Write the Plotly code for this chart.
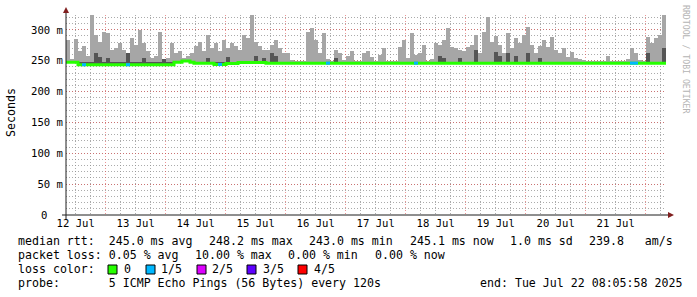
import plotly.graph_objects as go
import pandas as pd

# ---------------- data ----------------
START = pd.Timestamp("2025-07-12 08:05:58")
END = pd.Timestamp("2025-07-22 08:05:58")
BIN_MINUTES = 96  # 150 bins over 10 days

smoke_max = [
    284, 252, 285, 265, 273, 257, 324, 292, 281, 297, 295, 267, 271, 279, 267, 262, 287, 276, 300, 278,
    265, 254, 257, 297, 251, 254, 278, 262, 265, 254, 257, 262, 273, 281, 265, 292, 270, 278, 265, 284,
    270, 278, 273, 267, 292, 287, 324, 281, 273, 267,
    267, 276, 284, 270, 262, 262, 251, 249, 249, 250, 297, 303, 284, 262, 295, 252, 250, 267, 262, 251,
    258, 265, 250, 250, 262, 265, 256, 250, 260, 270, 250, 250, 250, 272, 284, 254, 295, 260, 262, 276,
    250, 252, 278, 275, 284, 303, 272, 270, 268, 265,
    272, 275, 292, 262, 297, 320, 280, 290, 276, 262, 295, 270, 286, 278, 292, 305, 276, 262, 273, 284,
    272, 288, 268, 262, 270, 256, 264, 255, 252, 251, 250, 250, 249, 250, 249, 258, 250, 249, 250, 250,
    252, 270, 262, 251, 250, 288, 278, 286, 292, 324,
]

smoke_inner = [
    248.5, 248.5, 248.5, 248.5, 248.5, 248.5, 248.5, 262, 256, 248.5, 255, 248.5, 248.5, 248.5, 248.5, 262, 248.5, 248.5, 248.5, 255,
    248.5, 248.5, 248.5, 248.5, 253, 248.5, 248.5, 250, 250, 251, 251, 250, 248.5, 248.5, 248.5, 254, 248.5, 248.5, 248.5, 248.5,
    256, 248.5, 248.5, 249, 249, 249, 249, 258, 249, 255,
    248.5, 262, 258, 248.5, 248.5, 248.5, 248.5, 248.5, 248.5, 248.5, 248.5, 248.5, 248.5, 248.5, 248.5, 248.5, 248.5, 254, 248.5, 248.5,
    248.5, 248.5, 248.5, 248.5, 248.5, 248.5, 248.5, 248.5, 248.5, 248.5, 248.5, 248.5, 248.5, 248.5, 248.5, 248.5, 248.5, 248.5, 248.5, 248.5,
    248.5, 248.5, 248.5, 257, 255, 248.5, 248.5, 248.5, 254, 248.5,
    248.5, 248.5, 268, 248.5, 248.5, 248.5, 248.5, 264, 258, 248.5, 262, 248.5, 258, 248.5, 248.5, 262, 248.5, 248.5, 255, 248.5,
    248.5, 248.5, 248.5, 248.5, 248.5, 248.5, 248.5, 248.5, 248.5, 248.5, 248.5, 248.5, 248.5, 248.5, 248.5, 248.5, 248.5, 248.5, 248.5, 248.5,
    248.5, 248.5, 248.5, 248.5, 248.5, 262, 248.5, 248.5, 248.5, 270,
]

median_rtt = [
    247.5, 247.5, 247.5, 243.5, 243.5, 243.5, 243.5, 243.5, 243.5, 243.5, 243.5, 243.5, 243.5, 243.5, 243.5, 243.5, 243.5, 243.5, 243.5, 243.5,
    243.5, 243.5, 243.5, 243.5, 243.5, 243.5, 243.5, 247.5, 247.5, 249.5, 249.5, 247.5, 246, 246, 246, 246, 246, 244, 244, 244,
    245.5, 245.5, 245.5, 247, 247, 247, 247, 247, 247, 247,
    246, 246, 246, 246, 246, 246, 246, 246, 246, 246, 246, 246, 246, 246, 246, 246, 246, 246, 246, 246,
    246, 246, 246, 246, 246, 246, 246, 246, 246, 246, 246, 246, 246, 246, 246, 246, 246, 246, 246, 246,
    246, 246, 246, 246, 246, 246, 246, 246, 246, 246,
    246, 246, 246, 246, 246, 246, 246, 246, 246, 246, 246, 246, 246, 246, 246, 246, 246, 246, 246, 246,
    246, 246, 246, 246, 246, 246, 246, 246, 246, 246, 246, 246, 246, 246, 246, 246, 246, 246, 246, 246,
    246, 246, 246, 246, 246, 246, 246, 246, 246, 246,
]

lost_pings = [0] * 150
for _i in (4, 15, 38, 65, 87, 141, 142):
    lost_pings[_i] = 1

loss_labels = ["0", "1/5", "2/5", "3/5", "4/5"]
loss_colors = ["#26ff00", "#00b8ff", "#dd00ff", "#5e00ff", "#ff0000"]

ytick_vals = [0, 50, 100, 150, 200, 250, 300]
ytick_text = ["0", "50 m", "100 m", "150 m", "200 m", "250 m", "300 m"]

legend_rows = [
    ["median rtt:  245.0 ms avg", "248.2 ms max", "243.0 ms min", "245.1 ms now", "1.0 ms sd", "239.8   am/s"],
    ["packet loss: 0.05 % avg", "10.00 % max", "0.00 % min", "0.00 % now"],
    ["loss color:"],
    ["probe:       5 ICMP Echo Pings (56 Bytes) every 120s"],
]
end_text = "end: Tue Jul 22 08:05:58 2025"
y_title = "Seconds"
watermark = "RRDTOOL / TOBI OETIKER"

# ---------------- geometry (pixels) ----------------
W, H = 697, 297
PL, PR, PT, PB = 66, 666, 15, 215
FONT = "DejaVu Sans Mono"
FS = 11.6
TFS = 10.6
CW = 0.602 * FS      # monospace advance
GAP = 16.5           # gap between legend items


def fx(px):
    return (px - PL) / (PR - PL)


def fy(py):
    return (PB - py) / (PB - PT)


n = len(smoke_max)
step = pd.Timedelta(minutes=BIN_MINUTES)
starts = [START + i * step for i in range(n)]
centers = [s + step / 2 for s in starts]
width_ms = BIN_MINUTES * 60 * 1000

fig = go.Figure()

fig.add_trace(go.Bar(
    x=centers, base=median_rtt,
    y=[max(0, a - b) for a, b in zip(smoke_max, median_rtt)],
    width=width_ms, marker=dict(color="#a6a6a6", line=dict(width=0)),
    hoverinfo="skip", showlegend=False))
fig.add_trace(go.Bar(
    x=centers, base=median_rtt,
    y=[max(0, a - b) for a, b in zip(smoke_inner, median_rtt)],
    width=width_ms, marker=dict(color="#555555", line=dict(width=0)),
    hoverinfo="skip", showlegend=False))

fig.add_trace(go.Scatter(
    x=starts + [END], y=median_rtt + [median_rtt[-1]],
    mode="lines", line=dict(color=loss_colors[0], width=3, shape="hv"),
    hoverinfo="skip", showlegend=False))

for lvl in range(1, 5):
    xs, ys = [], []
    for i in range(n):
        if lost_pings[i] == lvl:
            xs += [starts[i], starts[i] + step, None]
            ys += [median_rtt[i], median_rtt[i], None]
    if xs:
        fig.add_trace(go.Scatter(x=xs, y=ys, mode="lines",
                                 line=dict(color=loss_colors[lvl], width=3),
                                 hoverinfo="skip", showlegend=False))

GRID = "rgba(143,143,143,0.75)"
MGRID = "rgba(222,79,79,0.6)"

# the "0" label is drawn separately (rrdtool pads it with a blank unit)
tick_text_axis = ["" if v == 0 else t.replace(" ", "\u00a0") for v, t in zip(ytick_vals, ytick_text)]

fig.update_layout(
    width=W, height=H,
    margin=dict(l=PL, r=W - PR, t=PT, b=H - PB, pad=0),
    paper_bgcolor="white", plot_bgcolor="white",
    barmode="overlay", bargap=0,
    font=dict(family=FONT, size=FS, color="black"),
    xaxis=dict(
        type="date", range=[START, END],
        tick0="2025-07-12 00:00:00", dtick=86400000,
        ticklabelmode="period", tickformat="%d %b",
        showgrid=True, gridcolor=MGRID, griddash="1px,2px", gridwidth=1,
        minor=dict(dtick=6 * 3600 * 1000, tick0="2025-07-12 00:00:00",
                   showgrid=True, gridcolor=GRID, griddash="1px,2px", gridwidth=1),
        ticks="", showline=False, zeroline=False,
        tickfont=dict(family=FONT, size=TFS, color="black"),
    ),
    yaxis=dict(
        range=[0, 324], tickvals=ytick_vals, ticktext=tick_text_axis,
        showgrid=True, gridcolor=MGRID, griddash="1px,2px", gridwidth=1,
        minor=dict(dtick=10, showgrid=True, gridcolor=GRID, griddash="1px,2px", gridwidth=1),
        ticks="", showline=False, zeroline=False,
        tickfont=dict(family=FONT, size=TFS, color="black"),
        ticklabelstandoff=2,
    ),
)

AXIS = "#1f1f1f"
ARROW = "#801f1f"
shapes = [
    dict(type="line", xref="paper", yref="paper", x0=fx(62), x1=fx(669), y0=fy(215), y1=fy(215),
         line=dict(color=AXIS, width=1)),
    dict(type="line", xref="paper", yref="paper", x0=fx(66), x1=fx(66), y0=fy(219), y1=fy(12),
         line=dict(color=AXIS, width=1)),
    dict(type="path", xref="paper", yref="paper",
         path=f"M {fx(668)},{fy(212)} L {fx(674)},{fy(215)} L {fx(668)},{fy(218)} Z",
         fillcolor=ARROW, line=dict(color=ARROW, width=0)),
    dict(type="path", xref="paper", yref="paper",
         path=f"M {fx(63)},{fy(13)} L {fx(66)},{fy(7)} L {fx(69)},{fy(13)} Z",
         fillcolor=ARROW, line=dict(color=ARROW, width=0)),
]

annotations = []


def txt(s, px, py, **kw):
    d = dict(text=s.replace(" ", "\u00a0"), x=fx(px), y=fy(py), xref="paper", yref="paper",
             xanchor="left", yanchor="middle", showarrow=False,
             font=dict(family=FONT, size=FS, color="black"))
    d.update(kw)
    annotations.append(d)


# zero tick label
annotations.append(dict(text=ytick_text[0], x=0, y=ytick_vals[0], xref="paper", yref="y",
                        xanchor="center", yanchor="middle", showarrow=False, xshift=44 - PL,
                        font=dict(family=FONT, size=TFS, color="black")))

row_y = [241, 255, 269, 283]
for items, yy in zip(legend_rows, row_y):
    xpos = 16.0
    for it in items:
        txt(it, xpos, yy)
        xpos += len(it) * CW + GAP
txt(end_text, 478, row_y[3])

box_x = [108, 146, 197, 247, 298]
lab_x = [122, 159, 210, 261, 312]
for c, lab, bx, lx in zip(loss_colors, loss_labels, box_x, lab_x):
    shapes.append(dict(type="rect", xref="paper", yref="paper",
                       x0=fx(bx), x1=fx(bx + 9), y0=fy(265), y1=fy(274),
                       fillcolor=c, line=dict(color="black", width=1)))
    txt(lab, lx, row_y[2])

annotations.append(dict(text=y_title, x=fx(11), y=fy(113), xref="paper", yref="paper",
                        xanchor="center", yanchor="middle", showarrow=False, textangle=-90,
                        font=dict(family=FONT, size=FS, color="black")))
annotations.append(dict(text=watermark.replace(" ", "\u00a0"), x=fx(686), y=fy(59),
                        xref="paper", yref="paper",
                        xanchor="center", yanchor="middle", showarrow=False, textangle=90,
                        font=dict(family=FONT, size=8.2, color="#b4b4b4")))

fig.update_layout(shapes=shapes, annotations=annotations)
fig.write_html("out.html")
